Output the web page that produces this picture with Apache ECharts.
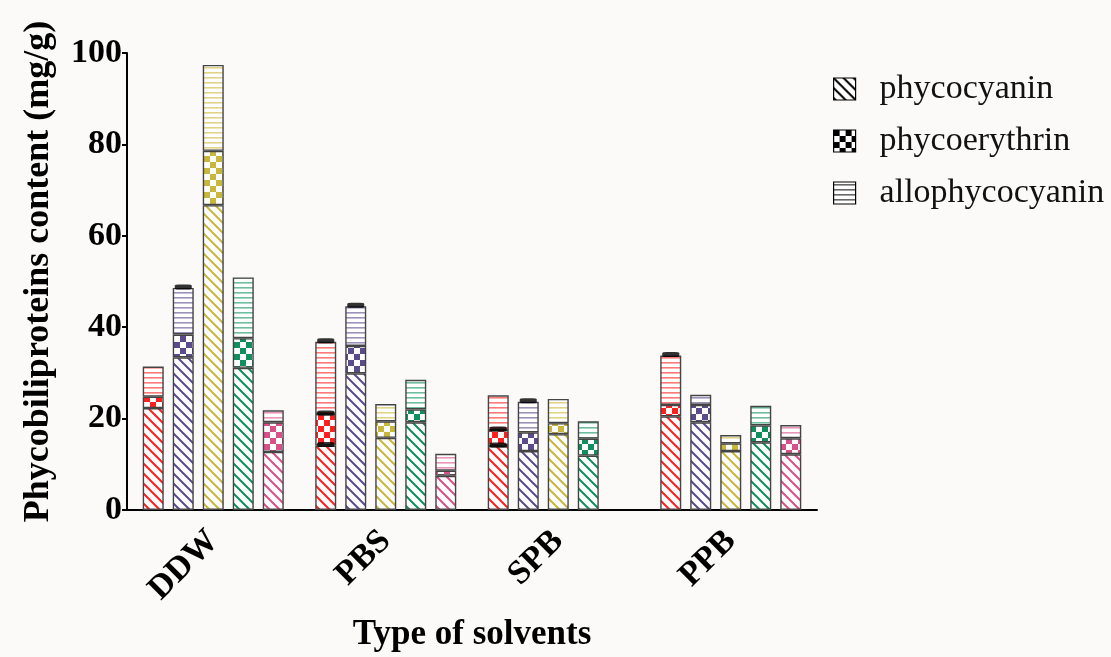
<!DOCTYPE html>
<html>
<head>
<meta charset="utf-8">
<script src="https://cdn.jsdelivr.net/npm/echarts@6/dist/echarts.min.js"></script>
<style>
  html, body { margin: 0; padding: 0; background: #fcfaf9; }
  #chart { width: 1111px; height: 657px; }
</style>
</head>
<body>
<div id="chart"></div>
<script>
// solvents on the x axis
const solvents = ['DDW', 'PBS', 'SPB', 'PPB'];
const yTicks = [0, 20, 40, 60, 80, 100];

// one bar per colour inside each group (red, purple, yellow, green, pink)
const barColors = ['#ff1f1f', '#5b4a8c', '#c9b73c', '#0f8f5d', '#d8508a'];

// segment heights (mg/g), rows follow barColors, columns follow solvents
const phycocyanin = [
  [22.3, 14.1, 14.0, 20.5],
  [33.4, 29.9, 12.9, 19.2],
  [66.7, 15.8, 16.6, 12.9],
  [31.1, 19.2, 11.9, 14.8],
  [12.7, 7.5, '-', 12.2]
];
const phycoerythrin = [
  [2.5, 6.9, 3.5, 2.5],
  [5.0, 6.0, 4.1, 3.8],
  [11.9, 3.6, 2.4, 1.7],
  [6.5, 2.8, 3.7, 3.7],
  [6.5, 1.1, '-', 3.5]
];
const allophycocyanin = [
  [6.6, 15.8, 7.6, 10.8],
  [10.2, 8.7, 6.7, 2.2],
  [18.8, 3.8, 5.3, 1.8],
  [13.3, 6.5, 3.8, 4.3],
  [2.6, 3.7, '-', 2.9]
];

// error caps [solvent index, value] – only where visible in the figure
const capsRed = [[1, 36.8], [1, 21.0], [1, 14.1], [2, 17.5], [2, 14.0], [3, 33.8]];
const capsPurple = [[0, 48.6], [1, 44.6], [2, 23.7]];

const BAR_W = 21;
const BAR_STEP = 30;

// small canvas tiles for the hatch fills
function makePattern(kind, color) {
  const c = document.createElement('canvas');
  const ctx = c.getContext('2d');
  if (kind === 'diag') {
    const s = 10;
    c.width = c.height = s;
    ctx.fillStyle = '#fff';
    ctx.fillRect(0, 0, s, s);
    ctx.strokeStyle = color;
    ctx.lineWidth = 2;
    ctx.beginPath();
    for (let k = -1; k <= 1; k++) {
      ctx.moveTo(-1, -1 + s * k);
      ctx.lineTo(s + 1, s + 1 + s * k);
    }
    ctx.stroke();
  } else if (kind === 'check') {
    c.width = c.height = 12;
    ctx.fillStyle = '#fff';
    ctx.fillRect(0, 0, 12, 12);
    ctx.fillStyle = color;
    ctx.fillRect(0, 0, 6, 6);
    ctx.fillRect(6, 6, 6, 6);
  } else {
    c.width = 5;
    c.height = 5;
    ctx.fillStyle = '#fff';
    ctx.fillRect(0, 0, 5, 5);
    ctx.globalAlpha = 0.6;
    ctx.fillStyle = color;
    ctx.fillRect(0, 2, 5, 1.6);
  }
  return { image: c, repeat: 'repeat' };
}

const components = [
  { name: 'phycocyanin', kind: 'diag', values: phycocyanin },
  { name: 'phycoerythrin', kind: 'check', values: phycoerythrin },
  { name: 'allophycocyanin', kind: 'hline', values: allophycocyanin }
];

const series = [];
barColors.forEach((col, ci) => {
  components.forEach((comp) => {
    series.push({
      name: comp.name,
      type: 'bar',
      stack: 'bar' + ci,
      barWidth: BAR_W,
      barGap: ((BAR_STEP - BAR_W) / BAR_W * 100).toFixed(1) + '%',
      data: comp.values[ci],
      itemStyle: {
        color: makePattern(comp.kind, col),
        borderColor: '#444',
        borderWidth: 1.4
      },
      emphasis: { disabled: true }
    });
  });
});

function capSeries(data, colorIndex) {
  return {
    type: 'scatter',
    data: data,
    symbol: 'roundRect',
    symbolSize: [17, 5],
    symbolOffset: [(colorIndex - 2) * BAR_STEP, -1],
    itemStyle: { color: '#000' },
    z: 5,
    silent: true
  };
}
series.push(capSeries(capsRed, 0));
series.push(capSeries(capsPurple, 1));

const serif = '"Liberation Serif", "Times New Roman", serif';

const chart = echarts.init(document.getElementById('chart'));
chart.setOption({
  backgroundColor: '#fcfaf9',
  animation: false,
  grid: { left: 127, right: 294, top: 53, bottom: 147, outerBoundsMode: 'none', containLabel: false },
  legend: {
    orient: 'vertical',
    left: 833,
    top: 72,
    itemWidth: 22,
    itemHeight: 22,
    itemGap: 18,
    icon: 'rect',
    selectedMode: false,
    padding: 0,
    textStyle: { fontFamily: serif, fontSize: 34, lineHeight: 34, color: '#111', padding: [0, 0, 0, 19] },
    data: components.map((comp) => ({
      name: comp.name,
      itemStyle: {
        color: makePattern(comp.kind, '#000'),
        borderColor: '#000',
        borderWidth: 1.2
      }
    }))
  },
  xAxis: {
    type: 'category',
    data: solvents,
    name: 'Type of solvents',
    nameLocation: 'middle',
    nameGap: 107,
    nameTextStyle: { fontFamily: serif, fontWeight: 'bold', fontSize: 35, color: '#000', verticalAlign: 'top' },
    axisLine: { lineStyle: { color: '#000', width: 2 } },
    axisTick: { alignWithLabel: true, length: 6, lineStyle: { color: '#000', width: 2 } },
    axisLabel: {
      rotate: 45,
      margin: 26,
      fontFamily: serif,
      fontWeight: 'bold',
      fontSize: 34,
      color: '#000'
    }
  },
  yAxis: {
    type: 'value',
    min: yTicks[0],
    max: yTicks[yTicks.length - 1],
    interval: yTicks[1] - yTicks[0],
    name: 'Phycobiliproteins content (mg/g)',
    nameLocation: 'middle',
    nameGap: 70,
    nameTextStyle: { fontFamily: serif, fontWeight: 'bold', fontSize: 36, color: '#000', padding: [0, 0, 0, 20] },
    splitLine: { show: false },
    axisLine: { show: true, lineStyle: { color: '#000', width: 2 } },
    axisTick: { show: true, length: 5, lineStyle: { color: '#000', width: 2 } },
    axisLabel: {
      margin: 5,
      fontFamily: serif,
      fontWeight: 'bold',
      fontSize: 34,
      color: '#000'
    }
  },
  series: series
});
</script>
</body>
</html>
